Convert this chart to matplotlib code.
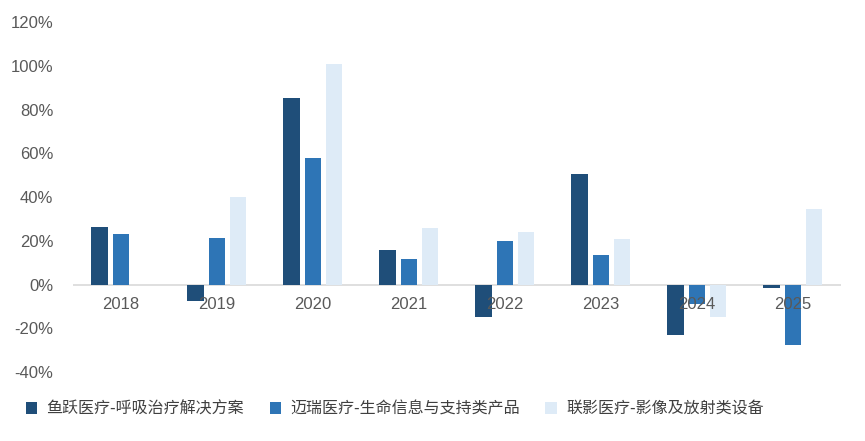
import matplotlib.pyplot as plt
import numpy as np

plt.rcParams['font.family'] = ['Noto Sans CJK SC', 'DejaVu Sans']

years = ["2018", "2019", "2020", "2021", "2022", "2023", "2024", "2025"]
yuyue = [26.5, -7.5, 85.5, 16, -14.6, 50.7, -23, -1.7]
mairui = [23, 21.5, 58, 11.5, 20, 13.7, -9, -27.4]
lianying = [0, 40, 101, 26, 24, 21, -15, 34.7]
names = ["鱼跃医疗-呼吸治疗解决方案", "迈瑞医疗-生命信息与支持类产品", "联影医疗-影像及放射类设备"]
colors = ["#1f4e79", "#2e75b6", "#deebf7"]

fig = plt.figure(figsize=(8.65, 4.41), dpi=100)
ax = fig.add_axes([0.084, 0.156, 0.888, 0.794])

x = np.arange(len(years))
w = 0.17
off = 0.22
for i, (vals, name) in enumerate(zip([yuyue, mairui, lianying], names)):
    ax.bar(x + (i - 1) * off, vals, w, color=colors[i], label=name, zorder=2)

ax.axhline(0, color="#d9d9d9", lw=1.2, zorder=1)
ax.set_xlim(-0.5, len(years) - 0.5)
ax.set_ylim(-40, 120)
ax.set_yticks(range(-40, 121, 20))
ax.set_yticklabels([f"{v}%" for v in range(-40, 121, 20)], fontsize=12, color="#595959",
                   family="Liberation Sans")
ax.set_xticks([])
for xi, yr in zip(x, years):
    ax.text(xi, -5.5, yr, ha="center", va="top", fontsize=12, color="#595959", zorder=3,
            family="Liberation Sans")
for s in ax.spines.values():
    s.set_visible(False)
ax.tick_params(axis="y", length=0, pad=14)

ax.legend(loc="upper left", bbox_to_anchor=(-0.08, -0.04), ncol=3, frameon=False,
          fontsize=11.5, labelcolor="#404040", handlelength=0.7, handleheight=0.7,
          columnspacing=1.6, handletextpad=0.6)

fig.savefig("out.png")
